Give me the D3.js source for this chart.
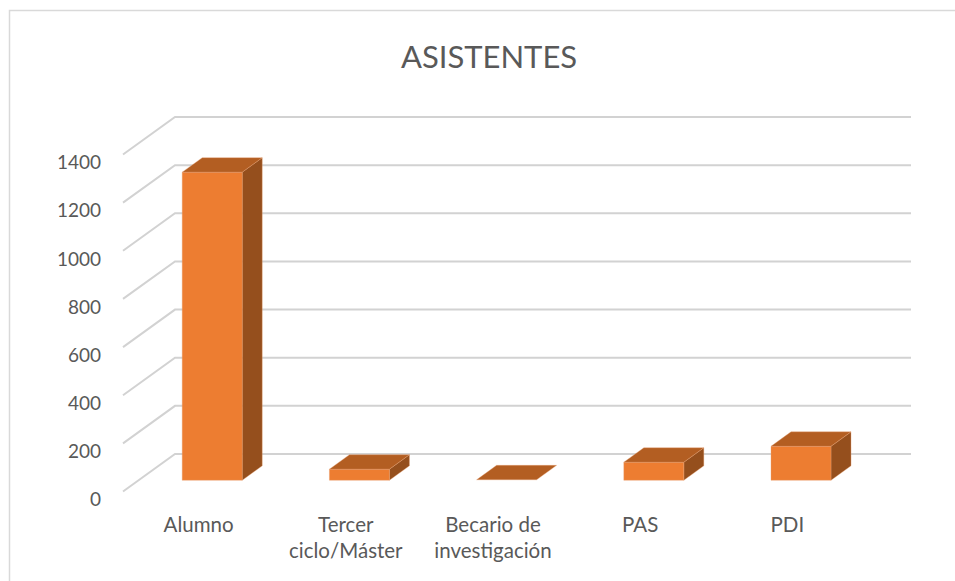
<!DOCTYPE html>
<html><head><meta charset="utf-8">
<script src="https://cdn.jsdelivr.net/npm/d3@7"></script>
<style>body{margin:0;background:#fff}svg{display:block}</style>
</head><body>
<script>
const categories = ["Alumno", "Tercer ciclo/Máster", "Becario de investigación", "PAS", "PDI"];
const categoryLines = [["Alumno"], ["Tercer", "ciclo/Máster"], ["Becario de", "investigación"], ["PAS"], ["PDI"]];
const values = [1280, 46, 2, 75, 141];
const yTicks = [0, 200, 400, 600, 800, 1000, 1200, 1400];
const title = "ASISTENTES";

const W = 955, H = 581;
const svg = d3.select("body").append("svg").attr("width", W).attr("height", H);
const font = "Lato, 'Open Sans', sans-serif";
const txt = "#595959";

svg.append("rect").attr("x", 9.5).attr("y", 10.5).attr("width", 960).attr("height", 600)
  .attr("fill", "#fff").attr("stroke", "#d9d9d9").attr("stroke-width", 1.5);

// geometry
const depthX = 52, depthY = -37.5;       // floor depth vector (front -> back)
const backLeft = 175, backRight = 911;
const y = d3.scaleLinear().domain([0, 1400]).range([454, 117]); // back wall
const x = d3.scaleBand().domain(categories).range([backLeft - depthX, backRight - depthX]).paddingInner(0).paddingOuter(0);
const t0 = 0.3, t1 = 0.685;   // bar depth positions (fraction of floor depth)
const barW = 60;

// gridlines (floor-side diagonal + back wall)
const grid = svg.append("g");
yTicks.forEach(v => {
  const yb = y(v), yf = yb - depthY;
  grid.append("path")
    .attr("d", `M${backLeft - depthX},${yf}L${backLeft},${yb}L${backRight},${yb}`)
    .attr("fill", "none").attr("stroke", "#d2d2d2").attr("stroke-width", 2);
});

// y labels
svg.append("g").selectAll("text").data(yTicks).join("text")
  .attr("x", 101).attr("y", d => y(d) - depthY + 10)
  .attr("text-anchor", "end").attr("dominant-baseline", "middle")
  .attr("font-family", font).attr("font-size", 19).attr("fill", txt)
  .text(d => d);

// bars
const bars = svg.append("g");
categories.forEach((c, i) => {
  const v = values[i];
  const cx = x(c) + x.bandwidth() / 2 + t0 * depthX;
  const x0 = cx - barW / 2, x1 = cx + barW / 2;
  const yb = y(0) - depthY + t0 * depthY;
  const yt = y(v) - depthY + t0 * depthY;
  const dx = (t1 - t0) * depthX, dy = (t1 - t0) * depthY;
  const g = bars.append("g").attr("stroke", "#e9a070").attr("stroke-width", 0.6).attr("stroke-opacity", 0.6);
  if (yb - yt > 0.5) {
    g.append("path").attr("d", `M${x1},${yt}L${x1 + dx},${yt + dy}L${x1 + dx},${yb + dy}L${x1},${yb}Z`).attr("fill", "#954F1D");
    g.append("path").attr("d", `M${x0},${yt}L${x1},${yt}L${x1},${yb}L${x0},${yb}Z`).attr("fill", "#ED7D31");
  }
  g.append("path").attr("d", `M${x0},${yt}L${x1},${yt}L${x1 + dx},${yt + dy}L${x0 + dx},${yt + dy}Z`).attr("fill", "#B35E22");
});

// category labels
const lab = svg.append("g");
categories.forEach((c, i) => {
  const cx = x(c) + x.bandwidth() / 2 + 2;
  const t = lab.append("text").attr("text-anchor", "middle")
    .attr("font-family", font).attr("font-size", 20.5).attr("fill", txt);
  categoryLines[i].forEach((l, j) => {
    t.append("tspan").attr("x", cx).attr("y", 532 + j * 26).text(l);
  });
});

// title
svg.append("text").attr("x", 489).attr("y", 68).attr("text-anchor", "middle")
  .attr("font-family", font).attr("font-size", 31).attr("fill", txt).text(title);
</script>
</body></html>
